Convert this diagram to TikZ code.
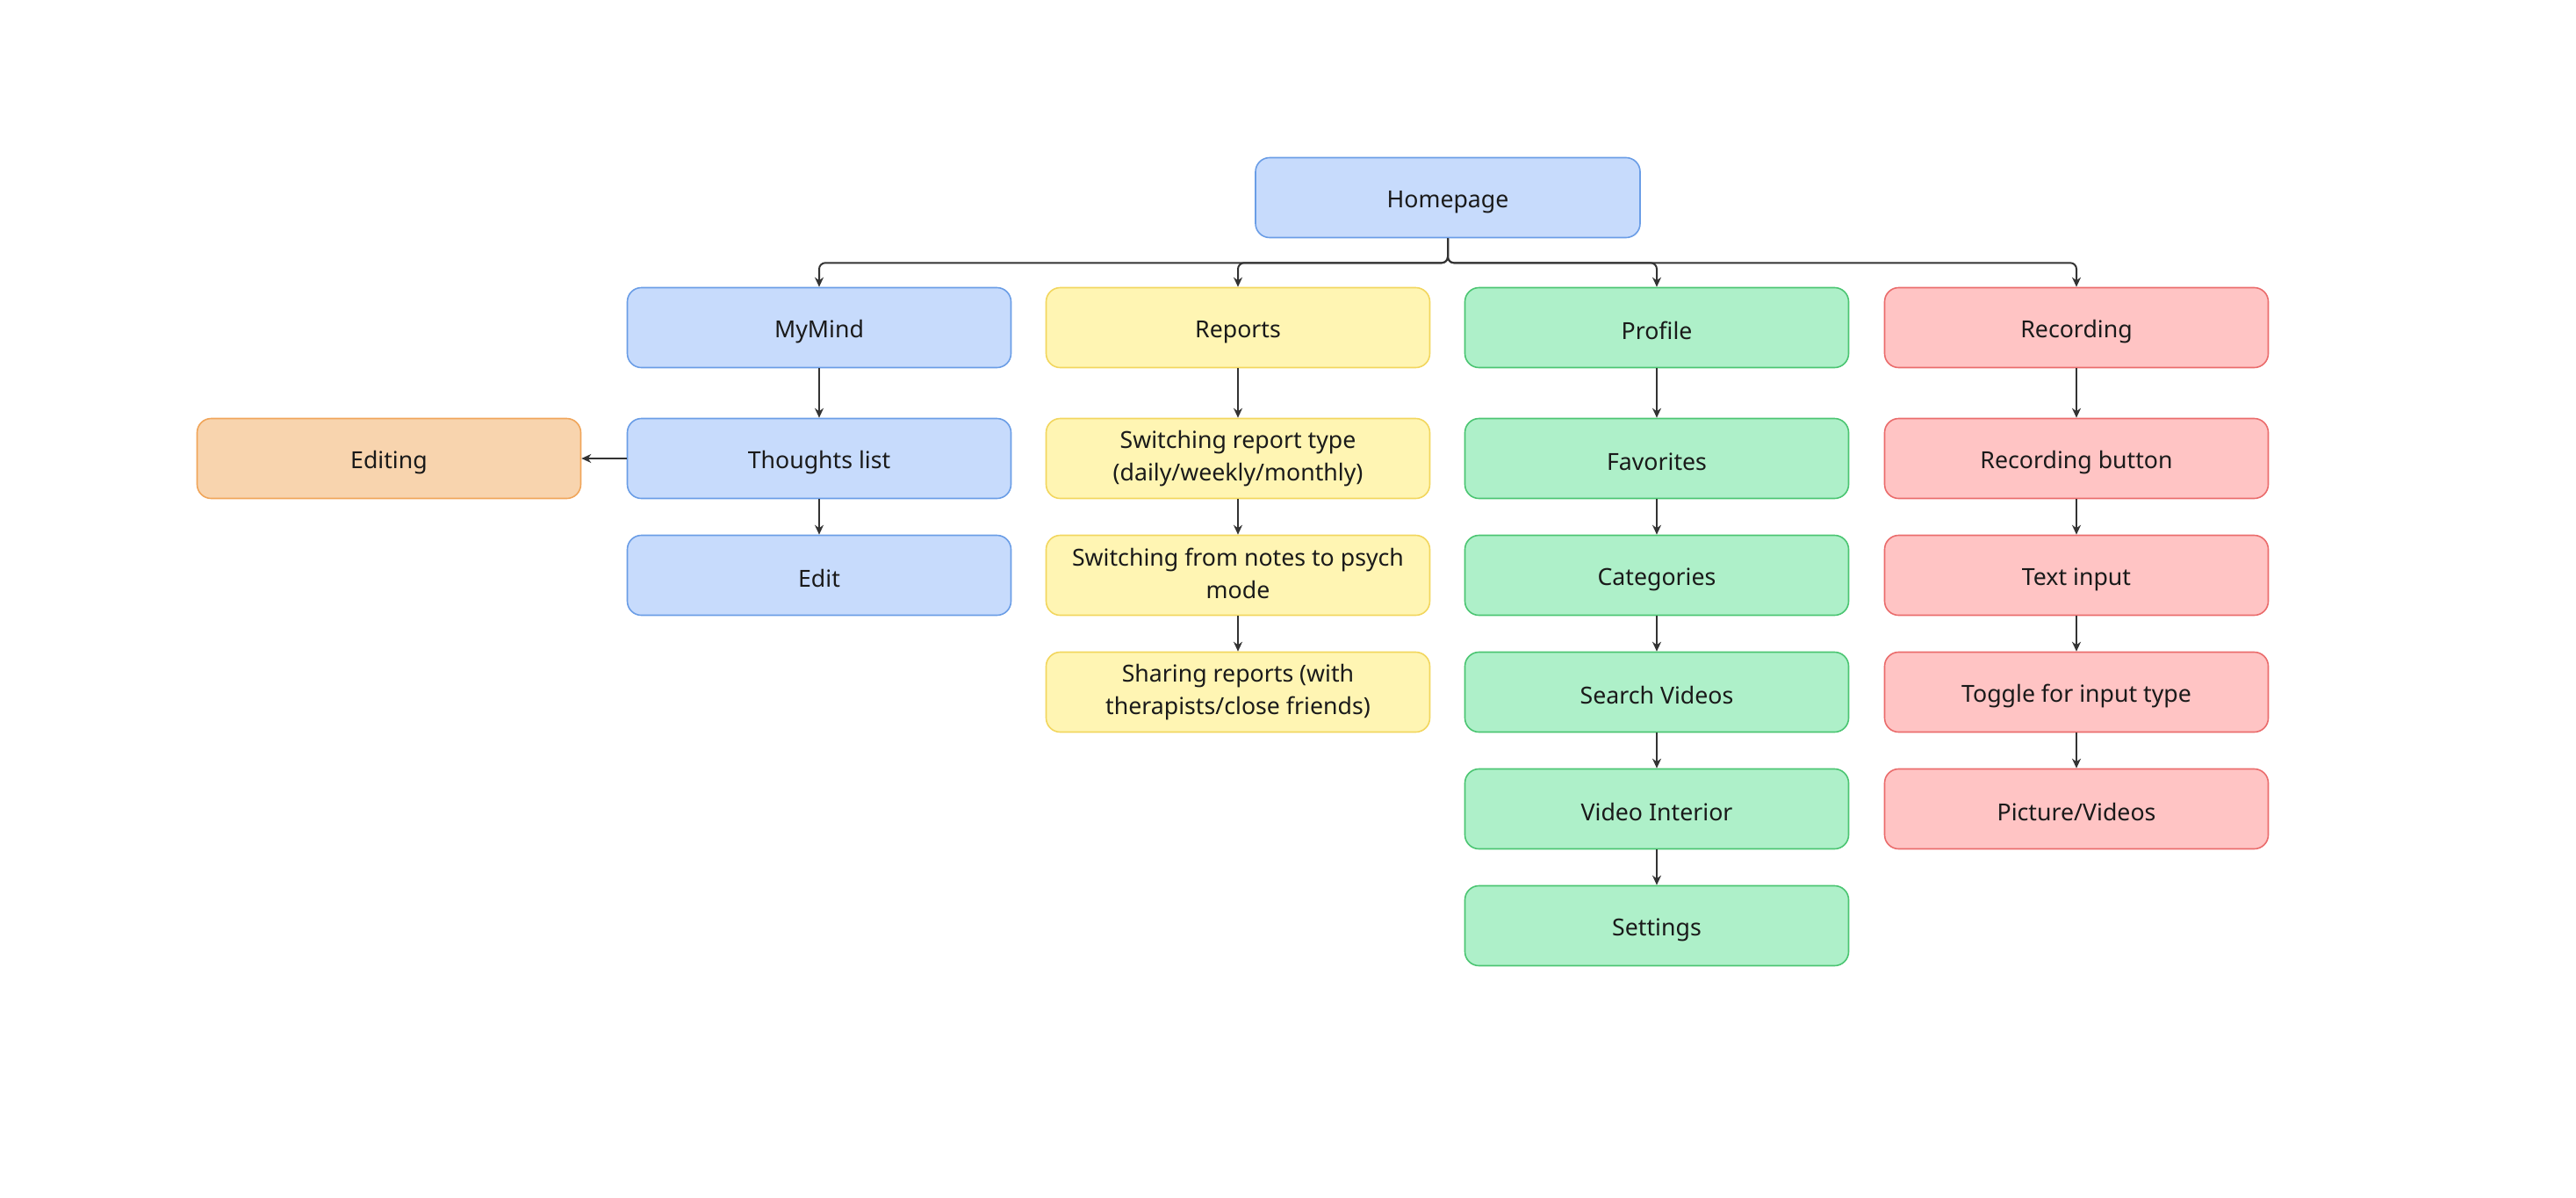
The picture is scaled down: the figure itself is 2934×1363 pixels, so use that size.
\documentclass[tikz,border=0pt]{standalone}
\usepackage{fontspec}
\setmainfont{Noto Sans}
\usetikzlibrary{arrows.meta}
\definecolor{bluef}{HTML}{C7DBFC}
\definecolor{blued}{HTML}{6A9DE6}
\definecolor{yelf}{HTML}{FFF5B3}
\definecolor{yeld}{HTML}{F2D65E}
\definecolor{grnf}{HTML}{AEF0C9}
\definecolor{grnd}{HTML}{4BC572}
\definecolor{redf}{HTML}{FFC4C4}
\definecolor{redd}{HTML}{EA6C6C}
\definecolor{orgf}{HTML}{F8D4AE}
\definecolor{orgd}{HTML}{F0A55A}
\definecolor{linec}{HTML}{333333}
\definecolor{textc}{HTML}{1A1A1A}
\newcommand{\boxstrut}{\rule[-4pt]{0pt}{34pt}}
\tikzset{
  box/.style={rectangle, rounded corners=16pt, line width=1.6pt, minimum width=437pt, minimum height=91pt, inner sep=0pt, align=center, text=textc, font=\fontsize{26.7}{37}\selectfont, execute at begin node=\boxstrut, execute at end node=\boxstrut},
  bluebox/.style={box, fill=bluef, draw=blued},
  yelbox/.style={box, fill=yelf, draw=yeld},
  grnbox/.style={box, fill=grnf, draw=grnd},
  redbox/.style={box, fill=redf, draw=redd},
  orgbox/.style={box, fill=orgf, draw=orgd},
  arr/.style={draw=linec, line width=2pt, -{Stealth[length=11pt,width=10pt]}},
  bus/.style={arr, rounded corners=7pt}
}
\begin{document}
\begin{tikzpicture}[x=1pt,y=-1pt]
\useasboundingbox (0,0) rectangle (2934,1363);
\node[bluebox, minimum width=438pt] (home) at (1649,225) {Homepage};
% column 1
\node[bluebox] (mymind) at (933,373) {MyMind};
\node[bluebox] (thoughts) at (933,522) {Thoughts list};
\node[bluebox] (edit) at (933,655) {Edit};
\node[orgbox] (editing) at (443,522) {Editing};
% column 2
\node[yelbox] (reports) at (1410,373) {Reports};
\node[yelbox] (switchtype) at (1410,522) {Switching report type\\(daily/weekly/monthly)};
\node[yelbox] (switchmode) at (1410,655) {Switching from notes to psych\\mode};
\node[yelbox] (sharing) at (1410,788) {Sharing reports (with\\therapists/close friends)};
% column 3
\node[grnbox] (profile) at (1887,373) {Profile};
\node[grnbox] (favorites) at (1887,522) {Favorites};
\node[grnbox] (categories) at (1887,655) {Categories};
\node[grnbox] (search) at (1887,788) {Search Videos};
\node[grnbox] (interior) at (1887,921) {Video Interior};
\node[grnbox] (settings) at (1887,1054) {Settings};
% column 4
\node[redbox] (recording) at (2365,373) {Recording};
\node[redbox] (recbutton) at (2365,522) {Recording button};
\node[redbox] (textinput) at (2365,655) {Text input};
\node[redbox] (toggle) at (2365,788) {Toggle for input type};
\node[redbox] (picture) at (2365,921) {Picture/Videos};
% bus connectors
\foreach \c in {mymind,reports,profile,recording}
  \draw[bus] (home.south) -- ++(0,28) -| (\c.north);
% column connectors
\draw[arr] (mymind) -- (thoughts);
\draw[arr] (thoughts) -- (edit);
\draw[arr] (thoughts) -- (editing);
\draw[arr] (reports) -- (switchtype);
\draw[arr] (switchtype) -- (switchmode);
\draw[arr] (switchmode) -- (sharing);
\draw[arr] (profile) -- (favorites);
\draw[arr] (favorites) -- (categories);
\draw[arr] (categories) -- (search);
\draw[arr] (search) -- (interior);
\draw[arr] (interior) -- (settings);
\draw[arr] (recording) -- (recbutton);
\draw[arr] (recbutton) -- (textinput);
\draw[arr] (textinput) -- (toggle);
\draw[arr] (toggle) -- (picture);
\end{tikzpicture}
\end{document}
